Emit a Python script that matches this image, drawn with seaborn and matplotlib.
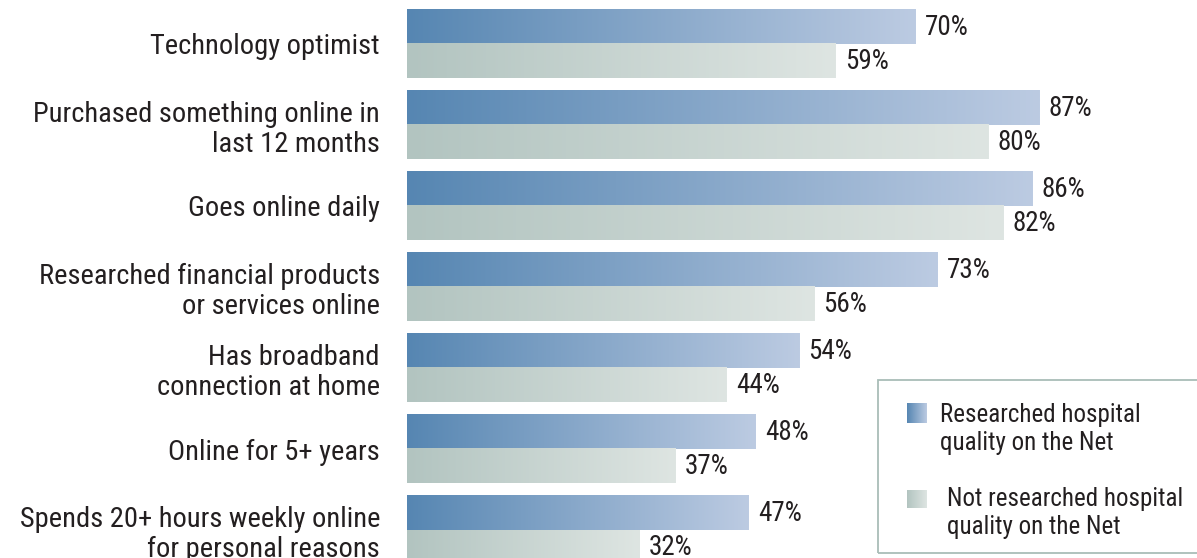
import numpy as np
import pandas as pd
import matplotlib
matplotlib.use("Agg")
import matplotlib.pyplot as plt
import seaborn as sns
from matplotlib.colors import LinearSegmentedColormap
from matplotlib.patches import Rectangle
from matplotlib import font_manager

categories = [
    "Technology optimist",
    "Purchased something online in\nlast 12 months",
    "Goes online daily",
    "Researched financial products\nor services online",
    "Has broadband\nconnection at home",
    "Online for 5+ years",
    "Spends 20+ hours weekly online\nfor personal reasons",
]
researched = [70, 87, 86, 73, 54, 48, 47]
not_researched = [59, 80, 82, 56, 44, 37, 32]
series = ["Researched hospital\nquality on the Net", "Not researched hospital\nquality on the Net"]

df = pd.DataFrame({
    "category": categories * 2,
    "value": researched + not_researched,
    "group": [series[0]] * len(categories) + [series[1]] * len(categories),
})

sns.set_theme(style="white")
available = {f.name for f in font_manager.fontManager.ttflist}
candidates = ['Liberation Sans Narrow', 'Roboto Condensed', 'DejaVu Sans Condensed',
              'Open Sans Condensed', 'Liberation Sans', 'Roboto']
chosen = [c for c in candidates if c in available][:1]
narrow = bool(chosen) and chosen[0] in ('Liberation Sans Narrow', 'Roboto Condensed',
                                          'DejaVu Sans Condensed', 'Open Sans Condensed')
plt.rcParams['font.family'] = chosen + ['DejaVu Sans']
lab_fs = 20.5 if narrow else 17
val_fs = 19.5 if narrow else 16.5
leg_fs = 18 if narrow else 15.5

W, H = 1197, 558
fig = plt.figure(figsize=(W / 100, H / 100), dpi=100)
ax = fig.add_axes([407 / W, 0, (W - 407) / W, 1])

grad_colors = [("#5686b2", "#bccbe2"), ("#b2c4c0", "#dee5e2")]
sns.barplot(data=df, x="value", y="category", hue="group", order=categories,
            hue_order=series, orient="h", width=0.84, gap=0, dodge=True, ax=ax,
            legend=False, palette=[c[0] for c in grad_colors], saturation=1)

px_per = 7.27
xmax = (W - 407) / px_per
ax.set_xlim(0, xmax)
ylim = ((H - 44) / 81, -44 / 81)

text_color = "#231f20"
grad = np.linspace(0, 1, 256).reshape(1, -1)
for k, cont in enumerate(ax.containers):
    cmap = LinearSegmentedColormap.from_list(f"g{k}", list(grad_colors[k]))
    for patch in cont.patches:
        x0, y0 = patch.get_x(), patch.get_y()
        w, h = patch.get_width(), patch.get_height()
        patch.set_visible(False)
        ax.imshow(grad, cmap=cmap, extent=[x0, x0 + w, y0 + h, y0], aspect='auto',
                  interpolation='bilinear', zorder=2)
        ax.text(x0 + w + 9 / px_per, y0 + h / 2 + 0.01, f"{int(round(w))}%", va='center',
                ha='left', fontsize=val_fs, color=text_color)

ax.set_xlim(0, xmax)
ax.set_ylim(*ylim)
ax.set_xticks([])
ax.set_xlabel("")
ax.set_ylabel("")
for s in ax.spines.values():
    s.set_visible(False)
ax.tick_params(axis='y', length=0, pad=27 * 0.72, labelsize=lab_fs, labelcolor=text_color)
for lab in ax.get_yticklabels():
    lab.set_linespacing(1.12)

# legend
rect = Rectangle((878 / W, 1 - 553 / H), 0.4, (553 - 380) / H, transform=fig.transFigure,
                 fill=False, edgecolor="#a9bdb7", lw=1.3)
fig.add_artist(rect)
sq = [(907, 403, 423), (907, 490, 508)]
for k, (sx, st, sb) in enumerate(sq):
    cmap = LinearSegmentedColormap.from_list(f"l{k}", list(grad_colors[k]))
    lax = fig.add_axes([sx / W, 1 - sb / H, 20 / W, (sb - st) / H])
    lax.imshow(grad, cmap=cmap, aspect='auto', interpolation='bilinear')
    lax.axis('off')
leg_lines = [(940, 422, series[0].split("\n")), (947, 506, series[1].split("\n"))]
for tx, bl, lines in leg_lines:
    for i, line in enumerate(lines):
        fig.text(tx / W, 1 - (bl + i * 28) / H, line, ha='left', va='baseline',
                 fontsize=leg_fs, color=text_color)

fig.savefig("out.png", dpi=100)
